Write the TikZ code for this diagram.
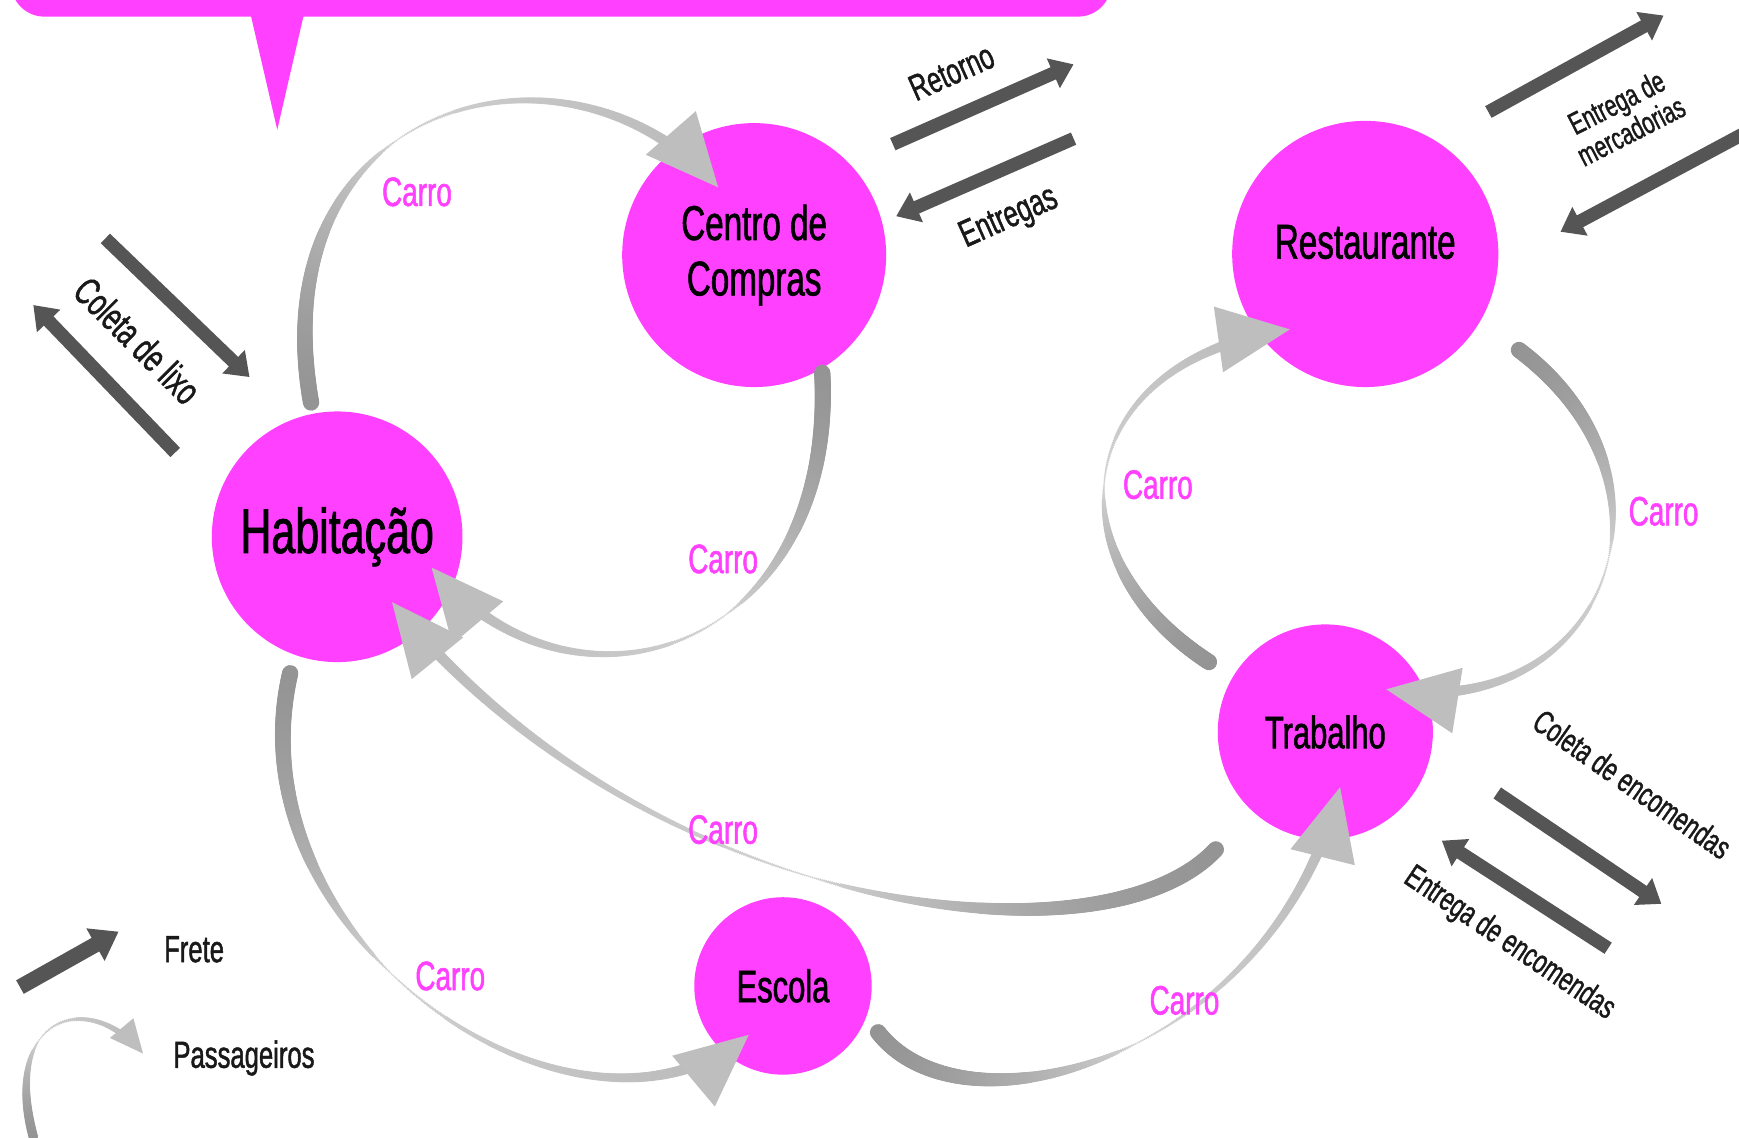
\documentclass[tikz,border=0pt]{standalone}
\usepackage{fontspec}
\setmainfont{Liberation Sans}[FakeStretch=0.68,FakeBold=1.2]
\usetikzlibrary{calc,arrows.meta,decorations.markings}

\definecolor{rosa}{RGB}{255,64,255}
\definecolor{cinzafrete}{RGB}{85,85,85}
\definecolor{cinzaponta}{RGB}{190,190,190}

\newcommand{\tam}[2]{\fontsize{#1pt}{#2pt}\selectfont}
\newcommand{\paxponto}[2]{%
  \pgfmathsetmacro\paxp{(\pgfkeysvalueof{/pgf/decoration/mark info/sequence number}-1)*1.8/\pgfdecoratedpathlength}%
  \pgfmathsetmacro\paxa{max(0,1-\paxp/0.45)}%
  \pgfmathsetmacro\paxa{\paxa*(2-\paxa)}%
  \pgfmathsetmacro\paxb{max(0,(\paxp-0.45)/0.55)}%
  \pgfmathsetmacro\paxr{0.9+#1*\paxa+#2*\paxb}%
  \pgfmathsetmacro\paxc{(42-15*\paxp)*(0.5+0.5*max(\paxa,\paxb))}%
  \fill[black!\paxc] (0,0) circle (\paxr pt);}

\begin{document}
\begin{tikzpicture}[x=1pt,y=1pt,
  lugar/.style={circle,fill=rosa,minimum size=#1,inner sep=0pt,align=center},
  carro/.style={text=rosa,font=\tam{37}{40}},
  rotulo/.style={text=black!90,align=center},
  frete/.style={draw=cinzafrete,line width=12pt,-{Triangle[length=20pt,width=28pt]}},
  pax/.style n args={4}{
    postaction={decorate,decoration={markings,
      mark=between positions 0 and #4 step 1.8pt with {\paxponto{#1}{#2}}}},
    postaction={decorate,decoration={markings,
      mark=at position 0.9999 with {\fill[cinzaponta] (0,0) -- (-#3,0.46*#3) -- (-#3,-0.46*#3) -- cycle;}}}},
  passageiro/.style={pax={6.5}{5}{65}{-30pt}}]

\useasboundingbox (0,0) rectangle (1568,1026);
\clip (0,0) rectangle (1568,1026);

\fill[rosa,rounded corners=30pt] (10,1011) rectangle (1002,1100);
\fill[rosa] (226,1013) -- (274,1013) -- (250,909) -- cycle;

\node[lugar=238pt,font=\tam{44}{50}] (cc) at (680,796) {Centro de\\Compras};
\node[lugar=240pt,font=\tam{44}{50},text depth=22pt] (rest) at (1231,797) {Restaurante};
\node[lugar=226pt,font=\tam{57}{60}] (hab) at (304,542) {Habitação};
\node[lugar=194pt,font=\tam{41}{45}] (trab) at (1195,366) {Trabalho};
\node[lugar=160pt,font=\tam{41}{45}] (esc) at (706,137) {Escola};

\path[passageiro] ($(hab)!1.09!(hab.101)$) .. controls +(100:281) and +(131:200) .. ($(cc)!0.58!(cc.118)$);
\path[passageiro] ($(cc)!1.03!(cc.300)$) .. controls +(273:250) and +(310:200) .. ($(hab)!0.79!(hab.342)$);
\path[passageiro] ($(trab)!1.49!(trab.227)$) .. controls +(227:151) and +(309:363) .. ($(hab)!0.68!(hab.310)$);
\path[passageiro] ($(hab)!1.15!(hab.251)$) .. controls +(257:249) and +(220:200) .. ($(esc)!0.67!(esc.235)$);
\path[passageiro] ($(esc)!1.19!(esc.334)$) .. controls +(308:128) and +(256:250) .. ($(trab)!0.53!(trab.285)$);
\path[passageiro] ($(trab)!1.26!(trab.149)$) .. controls +(147:174) and +(188:200) .. ($(rest)!0.8!(rest.225)$);
\path[passageiro] ($(rest)!1.36!(rest.328)$) .. controls +(323:200) and +(351:200) .. ($(trab)!0.69!(trab.35)$);

\node[carro] (carro1) at (376,853) {Carro};
\node[carro] (carro2) at (652,522) {Carro};
\node[carro] (carro3) at (1044,589) {Carro};
\node[carro] (carro4) at (1500,565) {Carro};
\node[carro] (carro5) at (652,278) {Carro};
\node[carro] (carro6) at (406,146) {Carro};
\node[carro] (carro7) at (1068,124) {Carro};

\coordinate (ret-a) at (805,896);
\coordinate (ret-b) at (968,968);
\coordinate (ent-a) at (968,901);
\coordinate (ent-b) at (808,831);
\coordinate (lixo1-a) at (95,811);
\coordinate (lixo1-b) at (225,686);
\coordinate (lixo2-a) at (158,618);
\coordinate (lixo2-b) at (30,751);
\coordinate (merc1-a) at (1342,925);
\coordinate (merc1-b) at (1500,1012);
\coordinate (merc2-a) at (1590,915);
\coordinate (merc2-b) at (1407,817);
\coordinate (enc1-a) at (1350,311);
\coordinate (enc1-b) at (1498,211);
\coordinate (enc2-a) at (1450,171);
\coordinate (enc2-b) at (1300,268);

\draw[frete] (ret-a) -- (ret-b);
\draw[frete] (ent-a) -- (ent-b);
\draw[frete] (lixo1-a) -- (lixo1-b);
\draw[frete] (lixo2-a) -- (lixo2-b);
\draw[frete] (merc1-a) -- (merc1-b);
\draw[frete] (merc2-a) -- (merc2-b);
\draw[frete] (enc1-a) -- (enc1-b);
\draw[frete] (enc2-a) -- (enc2-b);

\node[rotulo,font=\tam{33}{35},rotate=24] (retorno) at (858,961) {Retorno};
\node[rotulo,font=\tam{34}{36},rotate=24] (entregas) at (910,829) {Entregas};
\node[rotulo,font=\tam{35}{37},rotate=-45] (lixo) at (124,719) {Coleta de lixo};
\node[rotulo,font=\tam{28}{29},rotate=27] (merc) at (1464,921) {Entrega de\\mercadorias};
\node[rotulo,font=\tam{30}{32},rotate=-35] (colenc) at (1472,319) {Coleta de encomendas};
\node[rotulo,font=\tam{30}{32},rotate=-34] (entenc) at (1361,175) {Entrega de encomendas};

\coordinate (legf-a) at (18,136);
\coordinate (legf-b) at (107,186);
\draw[frete,line width=14pt,-{Triangle[length=24pt,width=32pt]}] (legf-a) -- (legf-b);
\node[rotulo,font=\tam{34}{36}] (frete) at (175,170) {Frete};

\coordinate (legp-a) at (30,1);
\coordinate (legp-b) at (129,76);
\path[pax={3.5}{2.5}{30}{-14pt}] (legp-a) .. controls +(105:113) and +(130:77) .. (legp-b);
\node[rotulo,font=\tam{34}{36}] (pass) at (220,72) {Passageiros};

\end{tikzpicture}
\end{document}
